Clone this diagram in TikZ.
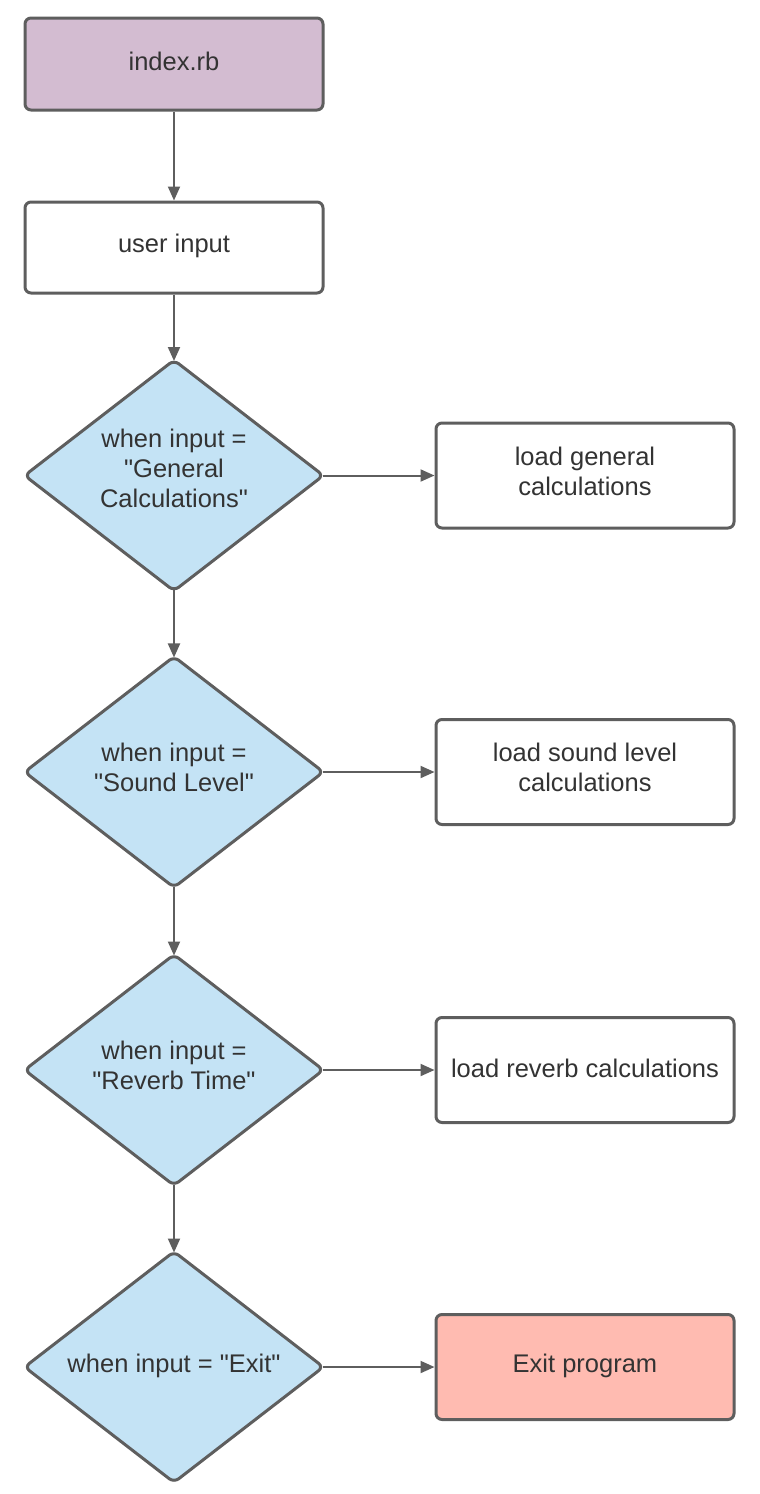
\documentclass[tikz,border=0pt]{standalone}
\usepackage{fontspec}
\setmainfont{Liberation Sans}
\usetikzlibrary{shapes.geometric,arrows.meta}
\definecolor{edgegray}{HTML}{5E5E5E}
\definecolor{txtgray}{HTML}{333333}
\definecolor{startfill}{HTML}{D3BCD1}
\definecolor{decfill}{HTML}{C4E3F5}
\definecolor{exitfill}{HTML}{FFBBB1}
\newcommand{\dq}{\textquotedbl}
\tikzset{
  base/.style={draw=edgegray, line width=3pt},
  txt/.style={text=txtgray, font=\fontsize{25.5}{30}\selectfont, align=center},
  procbox/.style={base, rectangle, rounded corners=6pt, minimum width=298pt, inner sep=0pt},
  decbox/.style={base, diamond, rounded corners=6pt, fill=decfill, minimum width=300pt, minimum height=232pt, inner sep=0pt},
  conn/.style={draw=edgegray, line width=2pt, -{Triangle[length=14pt,width=12pt]}},
  fromdec/.style={shorten <=-3pt},
  todec/.style={shorten >=-3pt}
}
\begin{document}
\begin{tikzpicture}[x=1pt,y=-1pt]
\useasboundingbox (0,0) rectangle (760,1494);
\node[procbox, fill=startfill, minimum height=92pt, label={[txt,yshift=2.5pt]center:index.rb}] (start) at (174,64) {};
\node[procbox, fill=white, minimum height=91pt, label={[txt,yshift=2pt]center:user input}] (input) at (174,247.5) {};
\node[decbox, label={[txt,yshift=7pt]center:when input =\\\dq General\\Calculations\dq}] (d1) at (174,475.5) {};
\node[decbox, label={[txt,yshift=5pt]center:when input =\\\dq Sound Level\dq}] (d2) at (174,772) {};
\node[decbox, label={[txt,yshift=5pt]center:when input =\\\dq Reverb Time\dq}] (d3) at (174,1070) {};
\node[decbox, label={[txt,yshift=1pt]center:when input = \dq Exit\dq}] (d4) at (174,1367) {};
\node[procbox, fill=white, minimum height=105pt, label={[txt,yshift=4pt]center:load general\\calculations}] (r1) at (585,475.5) {};
\node[procbox, fill=white, minimum height=105pt, label={[txt,yshift=5pt]center:load sound level\\calculations}] (r2) at (585,772) {};
\node[procbox, fill=white, minimum height=105pt, label={[txt,yshift=2pt]center:load reverb calculations}] (r3) at (585,1070) {};
\node[procbox, fill=exitfill, minimum height=105pt, label={[txt,yshift=1pt]center:Exit program}] (r4) at (585,1367) {};
\draw[conn] (start) -- (input);
\draw[conn, todec] (input) -- (d1);
\draw[conn, fromdec, todec] (d1) -- (d2);
\draw[conn, fromdec, todec] (d2) -- (d3);
\draw[conn, fromdec, todec] (d3) -- (d4);
\draw[conn, fromdec] (d1) -- (r1);
\draw[conn, fromdec] (d2) -- (r2);
\draw[conn, fromdec] (d3) -- (r3);
\draw[conn, fromdec] (d4) -- (r4);
\end{tikzpicture}
\end{document}
